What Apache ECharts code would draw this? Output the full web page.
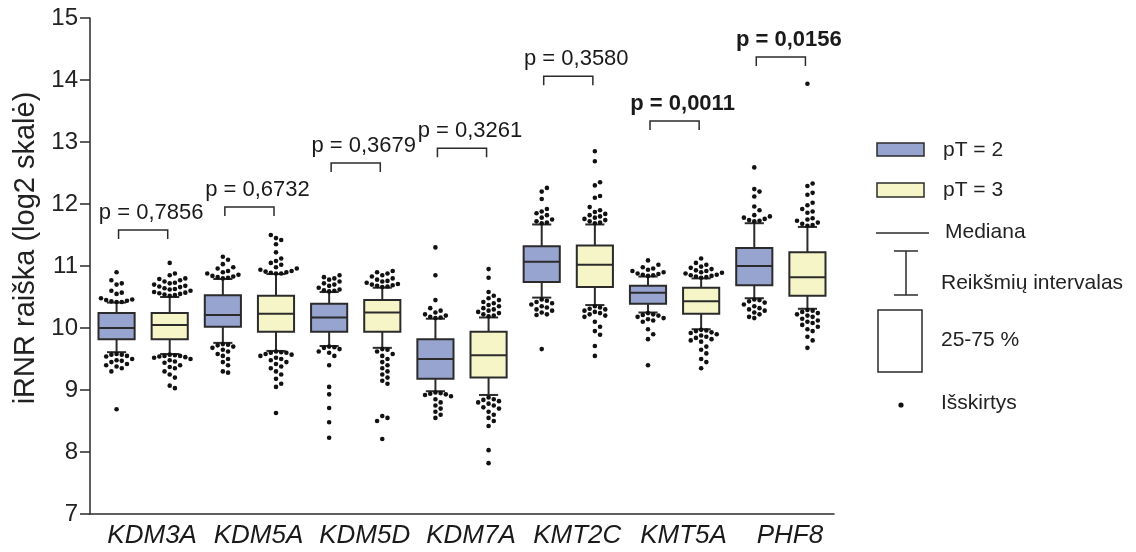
<!DOCTYPE html>
<html><head><meta charset="utf-8">
<script src="https://cdn.jsdelivr.net/npm/echarts@6/dist/echarts.min.js"></script>
<style>html,body{margin:0;padding:0;background:#fff}#c{width:1136px;height:552px}</style>
</head><body><div id="c"></div>
<script>
// ---------------- DATA ----------------
const genes = ['KDM3A', 'KDM5A', 'KDM5D', 'KDM7A', 'KMT2C', 'KMT5A', 'PHF8'];
const groups = ['pT = 2', 'pT = 3'];
const yTicks = [7, 8, 9, 10, 11, 12, 13, 14, 15];
// [min whisker, Q1, median, Q3, max whisker]
const pT2Box = [
  [9.61, 9.82, 10.00, 10.24, 10.41],
  [9.76, 10.02, 10.21, 10.53, 10.79],
  [9.71, 9.94, 10.17, 10.39, 10.58],
  [8.98, 9.18, 9.50, 9.82, 10.15],
  [10.49, 10.74, 11.07, 11.32, 11.67],
  [10.25, 10.39, 10.57, 10.68, 10.83],
  [10.48, 10.69, 11.00, 11.29, 11.69]
];
const pT3Box = [
  [9.58, 9.82, 10.05, 10.24, 10.50],
  [9.63, 9.94, 10.23, 10.52, 10.87],
  [9.68, 9.94, 10.25, 10.45, 10.65],
  [8.92, 9.20, 9.56, 9.94, 10.17],
  [10.37, 10.66, 11.02, 11.33, 11.67],
  [9.98, 10.23, 10.43, 10.65, 10.80],
  [10.31, 10.52, 10.82, 11.22, 11.63]
];
const pT2Outliers = [
  [10.90, 10.77, 10.72, 10.70, 10.60, 10.57, 10.55, 10.48, 10.46, 10.45, 10.44, 10.43, 10.42, 10.42,
   9.58, 9.57, 9.57, 9.55, 9.54, 9.50, 9.48, 9.47, 9.45, 9.42, 9.40, 9.38, 9.35, 9.30, 8.69],
  [11.15, 11.10, 11.03, 10.98, 10.96, 10.92, 10.90, 10.88, 10.86, 10.84, 10.83, 10.82, 10.81, 10.80,
   9.74, 9.73, 9.72, 9.70, 9.68, 9.65, 9.62, 9.58, 9.55, 9.50, 9.45, 9.40, 9.30, 9.28],
  [10.85, 10.82, 10.80, 10.78, 10.75, 10.72, 10.70, 10.68, 10.65, 10.62, 10.61, 10.60, 10.59,
   9.70, 9.69, 9.68, 9.66, 9.62, 9.60, 9.55, 9.40, 9.05, 8.93, 8.71, 8.48, 8.23],
  [11.30, 10.85, 10.45, 10.32, 10.28, 10.25, 10.22, 10.20, 10.18, 10.17, 10.16,
   8.96, 8.95, 8.94, 8.93, 8.92, 8.90, 8.85, 8.80, 8.75, 8.70, 8.65, 8.60, 8.55],
  [12.26, 12.20, 12.08, 11.92, 11.88, 11.85, 11.82, 11.78, 11.75, 11.72, 11.70, 11.69,
   10.46, 10.44, 10.42, 10.40, 10.38, 10.35, 10.33, 10.30, 10.28, 10.25, 10.22, 10.21, 9.66],
  [11.09, 11.02, 10.98, 10.96, 10.94, 10.92, 10.90, 10.88, 10.87, 10.86, 10.85, 10.84,
   10.24, 10.22, 10.21, 10.20, 10.18, 10.16, 10.14, 10.12, 10.10, 9.98, 9.90, 9.82, 9.40],
  [12.59, 12.24, 12.20, 12.12, 11.96, 11.90, 11.82, 11.80, 11.78, 11.76, 11.74, 11.73, 11.72,
   10.46, 10.45, 10.43, 10.41, 10.38, 10.35, 10.32, 10.30, 10.28, 10.25, 10.22, 10.18, 10.16]
];
const pT3Outliers = [
  [11.05, 10.88, 10.85, 10.80, 10.79, 10.77, 10.75, 10.73, 10.72, 10.70, 10.68, 10.67, 10.66, 10.64,
   10.63, 10.62, 10.60, 10.58, 10.57, 10.56, 10.55, 10.54, 10.53, 10.52,
   9.57, 9.56, 9.55, 9.55, 9.54, 9.53, 9.52, 9.50, 9.48, 9.46, 9.44, 9.40, 9.37, 9.35, 9.30, 9.25, 9.20, 9.07, 9.03],
  [11.50, 11.45, 11.42, 11.35, 11.22, 11.12, 11.08, 11.05, 11.02, 10.98, 10.96, 10.94, 10.92, 10.91,
   10.90, 10.89, 10.88, 10.88,
   9.62, 9.61, 9.60, 9.60, 9.58, 9.57, 9.55, 9.52, 9.50, 9.48, 9.45, 9.42, 9.38, 9.35, 9.30, 9.25, 9.18, 9.10, 9.05, 8.63],
  [10.92, 10.90, 10.88, 10.85, 10.83, 10.80, 10.78, 10.76, 10.75, 10.73, 10.71, 10.70, 10.69, 10.68, 10.67, 10.66,
   9.66, 9.65, 9.62, 9.58, 9.55, 9.50, 9.45, 9.40, 9.35, 9.30, 9.25, 9.20, 9.15, 9.10, 8.58, 8.55, 8.50, 8.21],
  [10.95, 10.81, 10.58, 10.52, 10.48, 10.45, 10.42, 10.40, 10.37, 10.35, 10.32, 10.30, 10.28, 10.26, 10.24, 10.22, 10.20, 10.19,
   8.88, 8.85, 8.84, 8.82, 8.80, 8.78, 8.75, 8.72, 8.70, 8.65, 8.60, 8.55, 8.50, 8.42, 8.03, 7.82],
  [12.85, 12.69, 12.35, 12.30, 12.13, 12.10, 11.95, 11.90, 11.87, 11.84, 11.82, 11.80, 11.78, 11.76, 11.74, 11.72, 11.70, 11.69,
   10.35, 10.33, 10.31, 10.30, 10.28, 10.26, 10.24, 10.22, 10.20, 10.18, 10.10, 10.02, 9.95, 9.89, 9.71, 9.55],
  [11.12, 11.05, 11.02, 10.99, 10.97, 10.95, 10.93, 10.92, 10.90, 10.89, 10.88, 10.86, 10.85, 10.84, 10.83, 10.82, 10.81,
   9.97, 9.96, 9.95, 9.93, 9.92, 9.90, 9.88, 9.86, 9.84, 9.82, 9.80, 9.78, 9.70, 9.65, 9.59, 9.50, 9.45, 9.35],
  [13.94, 12.33, 12.29, 12.18, 12.15, 12.02, 11.98, 11.92, 11.88, 11.86, 11.77, 11.75, 11.73, 11.70, 11.68, 11.66, 11.65,
   10.29, 10.28, 10.26, 10.24, 10.22, 10.20, 10.18, 10.15, 10.12, 10.10, 10.08, 10.05, 10.02, 9.98, 9.95, 9.86, 9.80, 9.68]
];
const pValues = ['0,7856', '0,6732', '0,3679', '0,3261', '0,3580', '0,0011', '0,0156'];
const bracketLevels = [11.58, 11.95, 12.66, 12.90, 14.06, 13.34, 14.37];

// ---------------- STYLE ----------------
const FONT = "'Liberation Sans', Arial, sans-serif";
const fills = ['#98A4D0', '#F6F5C8'];
const INK = '#2b2b2b';

const slotNames = [];
genes.forEach(g => groups.forEach(gr => slotNames.push(g + ' ' + gr)));

const boxData = [];
const outlierData = [];
const outliersBySlot = {};
genes.forEach((g, gi) => {
  [pT2Box, pT3Box].forEach((arr, k) => {
    const slot = gi * 2 + k;
    boxData.push([slot].concat(arr[gi]).concat([k]));
    const outs = (k === 0 ? pT2Outliers : pT3Outliers)[gi];
    outliersBySlot[slot] = { vals: outs, box: arr[gi] };
    outs.forEach((v, i) => outlierData.push([slot, v, i]));
  });
});
const annotData = genes.map((g, i) => [i, bracketLevels[i]]);

function swarm(slot, api) {
  const info = outliersBySlot[slot];
  const med = info.box[2];
  const pts = info.vals.map((v, i) => ({ i, v, py: api.coord([slot, v])[1], above: v > med }));
  const dist = p => p.above ? p.v - info.box[4] : info.box[0] - p.v;
  const order = pts.slice().sort((a, b) => dist(a) - dist(b));
  const placed = [];
  const step = 5.2, minD = 5.0;
  const offsets = {};
  order.forEach(p => {
    for (let k = 0; k < 40; k++) {
      const m = k === 0 ? 0 : (k % 2 ? 1 : -1) * Math.ceil(k / 2);
      const dx = m * step;
      let ok = true;
      for (const q of placed) {
        const ddx = q.dx - dx, ddy = q.py - p.py;
        if (ddx * ddx + ddy * ddy < minD * minD) { ok = false; break; }
      }
      if (ok) { placed.push({ dx, py: p.py }); offsets[p.i] = dx; break; }
    }
  });
  return offsets;
}

const chart = echarts.init(document.getElementById('c'), null, { renderer: 'canvas' });

const legendGraphics = [
  { type: 'rect', shape: { x: 877, y: 143, width: 47, height: 13 }, style: { fill: fills[0], stroke: INK, lineWidth: 1.5 } },
  { type: 'text', style: { text: groups[0], x: 943, y: 150, fill: '#222', font: '21px ' + FONT, verticalAlign: 'middle' } },
  { type: 'rect', shape: { x: 877, y: 183, width: 47, height: 14 }, style: { fill: fills[1], stroke: INK, lineWidth: 1.5 } },
  { type: 'text', style: { text: groups[1], x: 943, y: 190, fill: '#222', font: '21px ' + FONT, verticalAlign: 'middle' } },
  { type: 'line', shape: { x1: 876, y1: 233, x2: 929, y2: 233 }, style: { stroke: INK, lineWidth: 1.3 } },
  { type: 'text', style: { text: 'Mediana', x: 945, y: 232, fill: '#222', font: '21px ' + FONT, verticalAlign: 'middle' } },
  { type: 'line', shape: { x1: 906, y1: 251, x2: 906, y2: 295 }, style: { stroke: INK, lineWidth: 1.5 } },
  { type: 'line', shape: { x1: 894, y1: 251, x2: 918, y2: 251 }, style: { stroke: INK, lineWidth: 1.5 } },
  { type: 'line', shape: { x1: 894, y1: 295, x2: 918, y2: 295 }, style: { stroke: INK, lineWidth: 1.5 } },
  { type: 'text', style: { text: 'Reikšmių intervalas', x: 941, y: 283, fill: '#222', font: '21px ' + FONT, verticalAlign: 'middle' } },
  { type: 'rect', shape: { x: 878, y: 310, width: 44, height: 62 }, style: { fill: '#fff', stroke: INK, lineWidth: 1.5 } },
  { type: 'text', style: { text: '25-75 %', x: 941, y: 340, fill: '#222', font: '21px ' + FONT, verticalAlign: 'middle' } },
  { type: 'circle', shape: { cx: 901, cy: 405, r: 2.6 }, style: { fill: '#111' } },
  { type: 'text', style: { text: 'Išskirtys', x: 941, y: 403, fill: '#222', font: '21px ' + FONT, verticalAlign: 'middle' } }
];

chart.setOption({
  backgroundColor: '#fff',
  animation: false,
  textStyle: { fontFamily: FONT },
  grid: { left: 90, right: 302, top: 18, bottom: 38, containLabel: false },
  xAxis: [
    {
      type: 'category', data: slotNames, boundaryGap: true, position: 'bottom',
      axisLine: { show: true, lineStyle: { color: INK, width: 1.5 } },
      axisTick: { show: false }, axisLabel: { show: false }, splitLine: { show: false }
    },
    {
      type: 'category', data: genes, boundaryGap: true, position: 'bottom',
      axisLine: { show: false }, axisTick: { show: false }, splitLine: { show: false },
      axisLabel: { show: true, interval: 0, hideOverlap: false, fontSize: 26, fontStyle: 'italic', color: '#1a1a1a', margin: 9, padding: [0, 0, 0, 18], fontFamily: FONT }
    }
  ],
  yAxis: {
    type: 'value', min: yTicks[0], max: yTicks[yTicks.length - 1], interval: 1,
    name: 'iRNR raiška (log2 skalė)', nameLocation: 'middle', nameGap: 46,
    nameTextStyle: { fontSize: 29, color: '#222', fontFamily: FONT, padding: [0, 0, 0, 36] },
    axisLine: { show: true, lineStyle: { color: INK, width: 1.5 } },
    axisTick: { show: true, length: 10, lineStyle: { color: INK, width: 1.5 } },
    axisLabel: { fontSize: 24, color: '#222', margin: 12, fontFamily: FONT },
    splitLine: { show: false }
  },
  graphic: legendGraphics,
  series: [
    {
      type: 'custom', name: 'boxes', xAxisIndex: 0, yAxisIndex: 0, clip: false,
      data: boxData,
      encode: { x: 0, y: [1, 2, 3, 4, 5] },
      renderItem: function (params, api) {
        const slot = api.value(0);
        const v = [1, 2, 3, 4, 5].map(d => api.value(d));
        const grp = api.value(6);
        const xc = api.coord([slot, v[2]])[0];
        const bw = api.size([1, 0])[0];
        const boxW = bw * 0.68, capW = bw * 0.36;
        const y = val => api.coord([slot, val])[1];
        const ls = { stroke: INK, lineWidth: 2 };
        return {
          type: 'group',
          children: [
            { type: 'line', shape: { x1: xc, y1: y(v[3]), x2: xc, y2: y(v[4]) }, style: ls },
            { type: 'line', shape: { x1: xc, y1: y(v[1]), x2: xc, y2: y(v[0]) }, style: ls },
            { type: 'line', shape: { x1: xc - capW / 2, y1: y(v[4]), x2: xc + capW / 2, y2: y(v[4]) }, style: ls },
            { type: 'line', shape: { x1: xc - capW / 2, y1: y(v[0]), x2: xc + capW / 2, y2: y(v[0]) }, style: ls },
            { type: 'rect', shape: { x: xc - boxW / 2, y: y(v[3]), width: boxW, height: y(v[1]) - y(v[3]) },
              style: { fill: fills[grp], stroke: INK, lineWidth: 2 } },
            { type: 'line', shape: { x1: xc - boxW / 2, y1: y(v[2]), x2: xc + boxW / 2, y2: y(v[2]) }, style: ls }
          ]
        };
      }
    },
    {
      type: 'custom', name: 'outliers', xAxisIndex: 0, yAxisIndex: 0, clip: false,
      data: outlierData,
      encode: { x: 0, y: 1 },
      renderItem: function (params, api) {
        const slot = api.value(0), val = api.value(1), idx = api.value(2);
        const ctx = params.context;
        ctx.swarm = ctx.swarm || {};
        if (!ctx.swarm[slot]) ctx.swarm[slot] = swarm(slot, api);
        const p = api.coord([slot, val]);
        const dx = ctx.swarm[slot][idx] || 0;
        return { type: 'circle', shape: { cx: p[0] + dx, cy: p[1], r: 2.3 }, style: { fill: '#111' } };
      }
    },
    {
      type: 'custom', name: 'pvalues', xAxisIndex: 1, yAxisIndex: 0, clip: false,
      data: annotData,
      encode: { x: 0, y: 1 },
      renderItem: function (params, api) {
        const gi = api.value(0), lvl = api.value(1);
        const p = api.coord([gi, lvl]);
        const half = api.size([1, 0])[0] / 4 - 2;
        const leg = 9;
        const pv = pValues[gi];
        const sig = parseFloat(pv.replace(',', '.')) < 0.05;
        return {
          type: 'group',
          children: [
            { type: 'polyline', shape: { points: [[p[0] - half, p[1] + leg], [p[0] - half, p[1]], [p[0] + half, p[1]], [p[0] + half, p[1] + leg]] },
              style: { stroke: INK, lineWidth: 1.5, fill: null } },
            { type: 'text', style: { text: 'p = ' + pv, x: p[0] + 8, y: p[1] - 17, align: 'center', verticalAlign: 'middle',
              fill: '#1a1a1a', font: (sig ? 'bold ' : '') + '22px ' + FONT } }
          ]
        };
      }
    }
  ]
});
</script>
</body></html>
